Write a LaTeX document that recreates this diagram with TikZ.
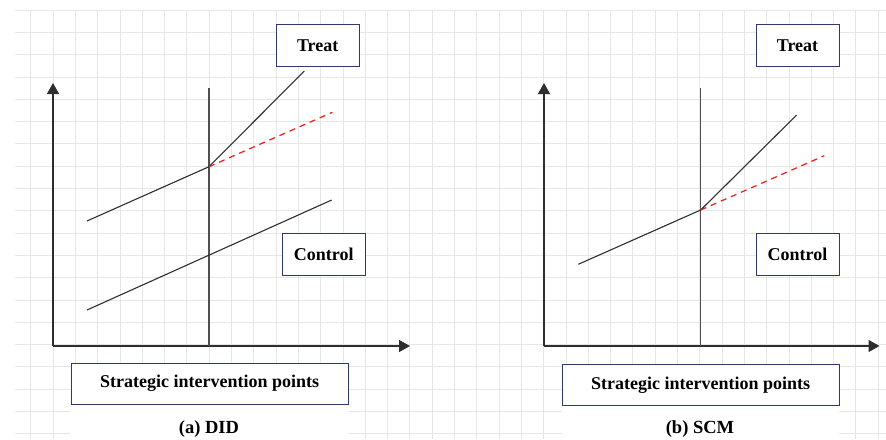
\documentclass[tikz,border=0pt]{standalone}
\usepackage{fontspec}
\setmainfont{Liberation Serif}
\usetikzlibrary{arrows.meta}
\definecolor{navy}{HTML}{2E3A6E}
\definecolor{gridc}{HTML}{E6E6E6}
\definecolor{linec}{HTML}{2E2E2E}
\definecolor{vlinec}{HTML}{505050}
\definecolor{redc}{HTML}{F01818}
\begin{document}
\begin{tikzpicture}[x=1pt,y=-1pt,
  gridline/.style={draw=gridc, line width=0.8pt},
  lbl/.style={draw=navy, line width=1pt, fill=white, inner sep=0pt, text=black,
    font=\bfseries\fontsize{18}{21}\selectfont},
  captext/.style={fill=white, inner sep=0pt, font=\bfseries\fontsize{18.5}{22}\selectfont},
  axis/.style={draw=linec, line width=1.4pt, -{Triangle[length=11pt,width=12pt]}},
  vline/.style={draw=vlinec, line width=1.1pt},
  trend/.style={draw=linec, line width=1.1pt},
  cf/.style={draw=redc, line width=1.2pt, dash pattern=on 6pt off 5pt}]
\useasboundingbox (0,0) rectangle (886,439);
% grid
\foreach \i in {0,...,38} \draw[gridline] ({30.7+22.3*\i},10) -- ({30.7+22.3*\i},439);
\foreach \k in {0,...,19} \draw[gridline] (15,{10+22.3*\k}) -- (886,{10+22.3*\k});
% white caption backgrounds
\fill[white] (70,405) rectangle (348.5,439);
\fill[white] (562,405) rectangle (839,439);

% ---------- (a) DID ----------
\coordinate (aO) at (53,346);
\coordinate (aY) at (53,83);
\coordinate (aX) at (410,346);
\coordinate (aVt) at (209,88);
\coordinate (aVb) at (209,346);
\coordinate (aT0) at (87,221);
\coordinate (aT1) at (209,166.7);
\coordinate (aT2) at (304.3,71);
\coordinate (aR) at (332.3,112.3);
\coordinate (aC0) at (87,310);
\coordinate (aC1) at (331.7,200);
\draw[axis] (aO) -- (aY);
\draw[axis] (aO) -- (aX);
\draw[vline] (aVt) -- (aVb);
\draw[trend] (aT0) -- (aT1) -- (aT2);
\draw[cf] (aT1) -- (aR);
\draw[trend] (aC0) -- (aC1);
\node[lbl, minimum width=83.3pt, minimum height=41.7pt] (aTreat) at (317.7,45.8) {Treat};
\node[lbl, minimum width=82.7pt, minimum height=41.7pt] (aCtrl) at (323.7,254.2) {Control};
\node[lbl, minimum width=277.3pt, minimum height=40.7pt] (aSIP) at (209.7,383.7) {Strategic intervention points};
\node[captext] (aCap) at (209,429) {(a) DID};

% ---------- (b) SCM ----------
\coordinate (bO) at (544,346);
\coordinate (bY) at (544,83);
\coordinate (bX) at (879.5,346);
\coordinate (bVt) at (700.7,88);
\coordinate (bVb) at (700.7,346);
\coordinate (bT0) at (578.3,264.3);
\coordinate (bT1) at (700.7,210);
\coordinate (bT2) at (796.7,115);
\coordinate (bR) at (824.3,155.7);
\draw[axis] (bO) -- (bY);
\draw[axis] (bO) -- (bX);
\draw[vline] (bVt) -- (bVb);
\draw[trend] (bT0) -- (bT1) -- (bT2);
\draw[cf] (bT1) -- (bR);
\node[lbl, minimum width=83pt, minimum height=41.7pt] (bTreat) at (797.5,45.8) {Treat};
\node[lbl, minimum width=83pt, minimum height=41.7pt] (bCtrl) at (797.5,254.2) {Control};
\node[lbl, minimum width=276.7pt, minimum height=41.4pt] (bSIP) at (700.7,385) {Strategic intervention points};
\node[captext] (bCap) at (700,429) {(b) SCM};
\end{tikzpicture}
\end{document}
